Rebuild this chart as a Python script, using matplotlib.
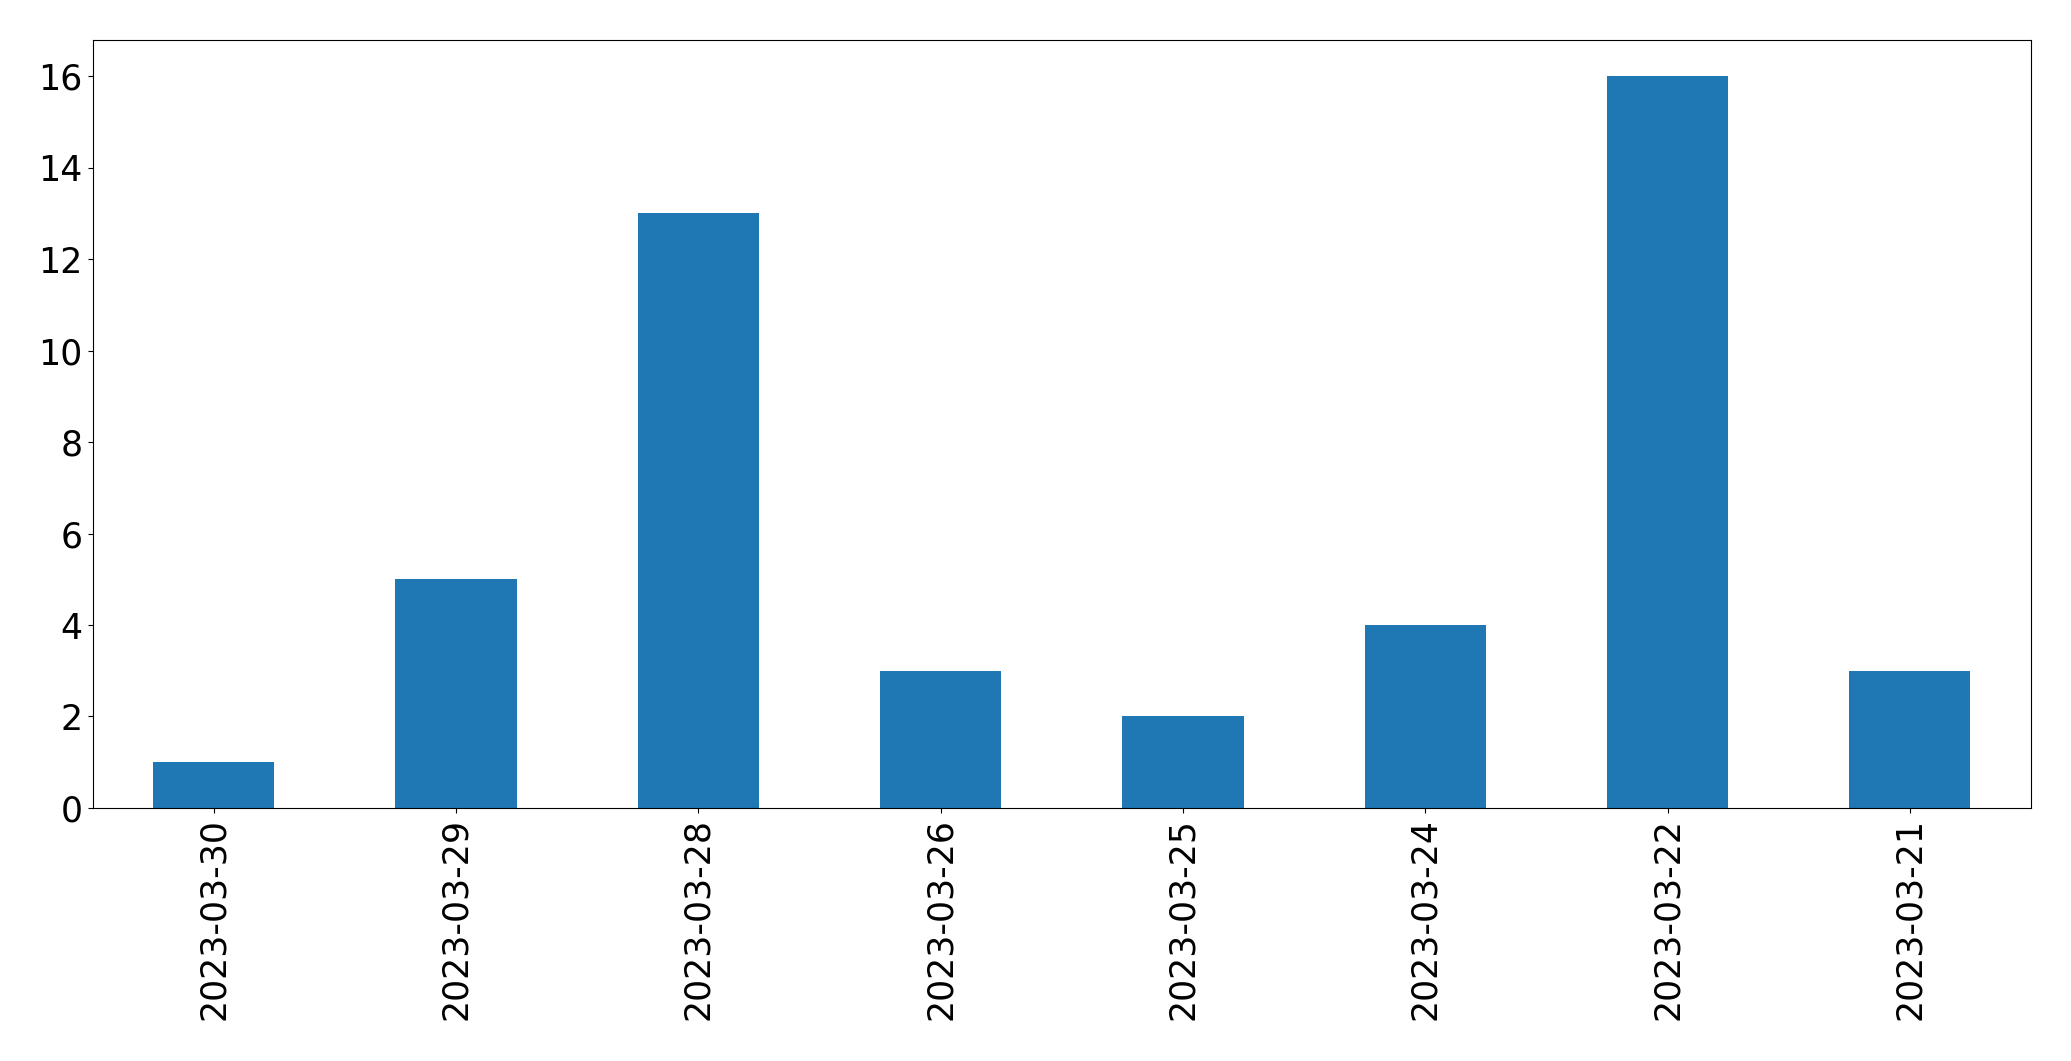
import pandas as pd
import matplotlib
matplotlib.use('Agg')
import matplotlib.pyplot as plt

# Daily counts, in the order shown on the chart
dates = ["2023-03-30", "2023-03-29", "2023-03-28", "2023-03-26",
         "2023-03-25", "2023-03-24", "2023-03-22", "2023-03-21"]
counts = [1, 5, 13, 3, 2, 4, 16, 3]

series = pd.Series(counts, index=dates)

fig, ax = plt.subplots(figsize=(20.71, 10.61), dpi=100)
series.plot(kind="bar", ax=ax, color="#1f77b4", width=0.5)

ax.tick_params(axis="both", labelsize=25)
ax.set_yticks(range(0, 17, 2))

fig.subplots_adjust(left=0.0447, right=0.9807, top=0.9627, bottom=0.2385)
plt.savefig("out.png", dpi=100)
plt.close(fig)
